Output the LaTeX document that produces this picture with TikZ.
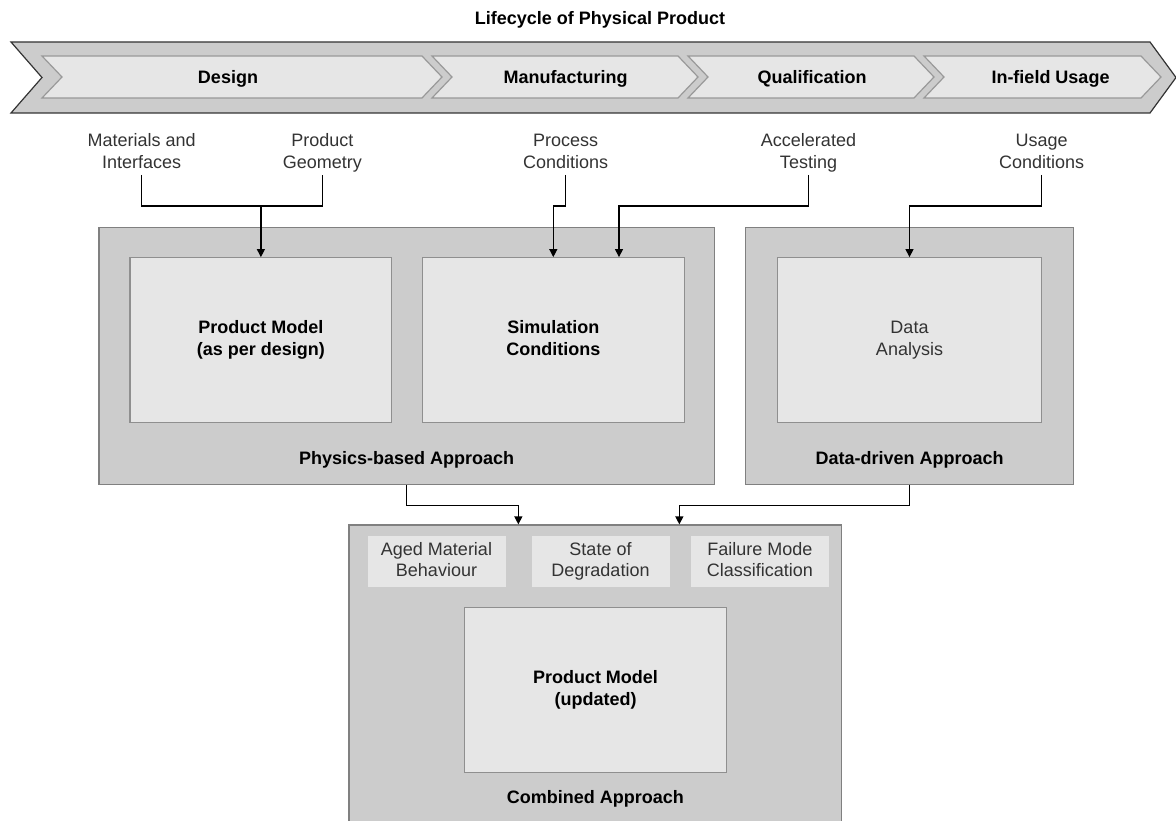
\documentclass[tikz,border=0pt]{standalone}
\usepackage{fontspec}
\setmainfont{Liberation Sans}
\usetikzlibrary{arrows.meta,calc}

\definecolor{outerfill}{HTML}{CCCCCC}
\definecolor{outerdraw}{HTML}{808080}
\definecolor{innerfill}{HTML}{E6E6E6}
\definecolor{innerdraw}{HTML}{8F8F8F}
\definecolor{bannerdraw}{HTML}{333333}
\definecolor{stagedraw}{HTML}{999999}
\definecolor{textgray}{HTML}{333333}

\newcommand\dgfont{\fontsize{18pt}{21.6pt}\selectfont}

\tikzset{
  banner/.style={fill=outerfill, draw=bannerdraw, line width=1.2pt, line join=miter},
  stage/.style={fill=innerfill, draw=stagedraw, line width=1.2pt, line join=miter},
  heading/.style={font=\dgfont\bfseries, text=black, inner sep=0pt, text height=13pt, text depth=0pt},
  outerbox/.style={rectangle, fill=outerfill, draw=outerdraw, line width=1.2pt, inner sep=0pt},
  innerbox/.style={rectangle, fill=innerfill, draw=innerdraw, line width=1.2pt, inner sep=0pt,
                   align=center, font=\dgfont\bfseries, text=black},
  plainbox/.style={innerbox, font=\dgfont, text=textgray},
  tagbox/.style={rectangle, fill=innerfill, draw=none, inner sep=0pt, align=center,
                 font=\dgfont, text=textgray, minimum width=138pt, minimum height=51pt},
  lbl/.style={align=center, font=\dgfont, text=textgray, inner sep=0pt},
  conn/.style={draw=black, line width=1.2pt},
  arr/.style={conn, -{Triangle[width=8pt,length=8pt]}},
}

\begin{document}
\begin{tikzpicture}[x=1pt, y=-1pt]
\useasboundingbox (0,0) rectangle (1176,821);

% title
\node[heading] (title) at (600,18) {Lifecycle of Physical Product};

% lifecycle banner with its four stages
\path[banner] (11,42) -- (1150,42) -- (1176,77.5) -- (1150,113) -- (11,113) -- (42,77.5) -- cycle;
\foreach \xa/\xb in {42/422, 432/678, 688/914, 924/1141}
  \path[stage] (\xa,56) -- (\xb,56) -- (\xb+20,77) -- (\xb,98) -- (\xa,98) -- (\xa+20,77) -- cycle;
\node[heading] (design) at (228,77.5) {Design};
\node[heading] (manuf)  at (565.5,77.5) {Manufacturing};
\node[heading] (qual)   at (812,77.5) {Qualification};
\node[heading] (field)  at (1050.5,77.5) {In-field Usage};

% inputs taken from the lifecycle
\node[lbl] (mat)  at (141.7,153) {Materials and\strut\\Interfaces\strut};
\node[lbl] (geo)  at (322.3,153) {Product\strut\\Geometry\strut};
\node[lbl] (proc) at (565.7,153) {Process\strut\\Conditions\strut};
\node[lbl] (acc)  at (808.5,153) {Accelerated\strut\\Testing\strut};
\node[lbl] (use)  at (1041.7,153) {Usage\strut\\Conditions\strut};

% physics-based approach
\node[outerbox, minimum width=615.3pt, minimum height=257pt] (phys) at (406.7,355.8) {};
\node[innerbox, minimum width=261.7pt, minimum height=164.6pt] (pm) at (260.9,340) {Product Model\strut\\(as per design)\strut};
\node[innerbox, minimum width=262pt, minimum height=164.6pt] (sim) at (553.3,340) {Simulation\strut\\Conditions\strut};
\node[heading] (physlbl) at (406.7,458) {Physics-based Approach};

% data-driven approach
\node[outerbox, minimum width=328pt, minimum height=257pt] (data) at (909.7,355.8) {};
\node[plainbox, minimum width=264.4pt, minimum height=164.6pt] (da) at (909.5,340) {Data\strut\\Analysis\strut};
\node[heading] (datalbl) at (909.7,458) {Data-driven Approach};

% combined approach
\node[outerbox, minimum width=492.7pt, minimum height=298pt] (comb) at (595.35,674) {};
\node[tagbox] (aged)  at (436.5,561.5) {Aged Material\strut\\Behaviour\strut};
\node[tagbox] (state) at (600.5,561.5) {State of\strut\\Degradation\strut};
\node[tagbox] (fail)  at (759.9,561.5) {Failure Mode\strut\\Classification\strut};
\node[innerbox, minimum width=262.4pt, minimum height=164.6pt] (pmu) at (595.5,690) {Product Model\strut\\(updated)\strut};
\node[heading] (comblbl) at (595.35,797) {Combined Approach};

% connectors from the lifecycle inputs
\draw[conn] ($(mat.center)+(0,22)$) |- ($(geo.center)+(0,53)$) -- ($(geo.center)+(0,22)$);
\draw[arr] ($(pm.north)+(0,-51.7)$) -- (pm.north);
\draw[arr] ($(proc.center)+(0,22)$) -- ++(0,31) -| (sim.north);
\draw[arr] ($(acc.center)+(0,22)$) -- ++(0,31) -| ($(sim.north)+(65.7,0)$);
\draw[arr] ($(use.center)+(0,22)$) -- ++(0,31) -| (da.north);

% connectors into the combined approach
\draw[arr] (phys.south) -- ++(0,20.7) -| ($(comb.north)+(-77,0)$);
\draw[arr] (data.south) -- ++(0,20.7) -| ($(comb.north)+(84,0)$);
\end{tikzpicture}
\end{document}
